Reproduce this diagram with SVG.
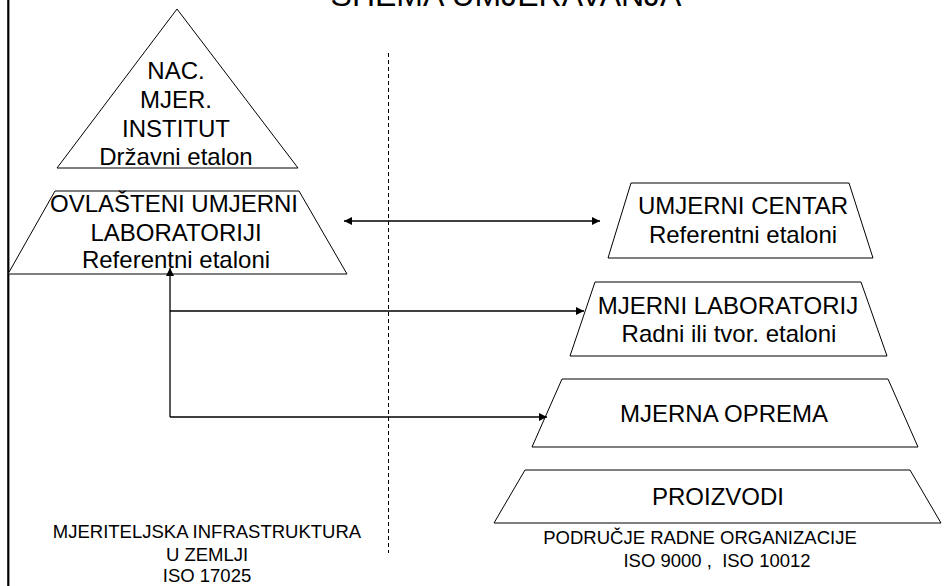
<svg xmlns="http://www.w3.org/2000/svg" width="951" height="586" viewBox="0 0 951 586">
  <style>
    .shape { fill: #ffffff; stroke: #000000; stroke-width: 1; }
    .lbl { font-family: "Liberation Sans", Arial, sans-serif; font-size: 24px; fill: #000000; text-anchor: middle; }
    .note { font-family: "Liberation Sans", Arial, sans-serif; font-size: 18.5px; fill: #000000; text-anchor: middle; }
    .title { font-family: "Liberation Sans", Arial, sans-serif; font-size: 32px; fill: #000000; text-anchor: middle; }
    .conn { fill: none; stroke: #000000; stroke-width: 1.3; }
  </style>
  <defs>
    <marker id="arrow" viewBox="0 0 10 10" refX="10" refY="5" markerWidth="10" markerHeight="8" markerUnits="userSpaceOnUse" orient="auto-start-reverse">
      <path d="M0,0 L10,5 L0,10 Z" fill="#000000"/>
    </marker>
  </defs>

  <rect x="0" y="0" width="951" height="586" fill="#ffffff"/>

  <!-- frame edge on the left -->
  <line x1="8.3" y1="0" x2="8.3" y2="586" stroke="#000000" stroke-width="2.2"/>

  <!-- heading, running off the top edge of the page -->
  <text class="title" x="506" y="6">SHEMA UMJERAVANJA</text>

  <!-- divider between national infrastructure and the organisation -->
  <line x1="388.5" y1="53" x2="388.5" y2="553" stroke="#000000" stroke-width="1" stroke-dasharray="4,3"/>

  <g id="nac-institut">
    <polygon class="shape" points="177,9 298,168 57,168"/>
    <text class="lbl" x="176" y="79">NAC.</text>
    <text class="lbl" x="176" y="108">MJER.</text>
    <text class="lbl" x="176" y="137">INSTITUT</text>
    <text class="lbl" x="176" y="165">Državni etalon</text>
  </g>

  <g id="ovlasteni-laboratoriji">
    <polygon class="shape" points="55,191 299,191 347,274 8,274"/>
    <text class="lbl" x="174" y="212">OVLAŠTENI UMJERNI</text>
    <text class="lbl" x="176" y="241">LABORATORIJI</text>
    <text class="lbl" x="176" y="268">Referentni etaloni</text>
  </g>

  <g id="umjerni-centar">
    <polygon class="shape" points="631,183 849,183 873,258 608,258"/>
    <text class="lbl" x="743" y="214">UMJERNI CENTAR</text>
    <text class="lbl" x="743" y="243">Referentni etaloni</text>
  </g>

  <g id="mjerni-laboratorij">
    <polygon class="shape" points="595,282 861,282 887,356 570,356"/>
    <text class="lbl" x="728" y="314">MJERNI LABORATORIJ</text>
    <text class="lbl" x="729" y="342">Radni ili tvor. etaloni</text>
  </g>

  <g id="mjerna-oprema">
    <polygon class="shape" points="562,379 888,379 918,447 532,447"/>
    <text class="lbl" x="724" y="422">MJERNA OPREMA</text>
  </g>

  <g id="proizvodi">
    <polygon class="shape" points="525,470 910,470 941,523 494,523"/>
    <text class="lbl" x="718" y="505">PROIZVODI</text>
  </g>

  <g id="connectors">
    <line class="conn" x1="344" y1="221" x2="600" y2="221" marker-start="url(#arrow)" marker-end="url(#arrow)"/>
    <line class="conn" x1="170" y1="417" x2="170" y2="268" marker-end="url(#arrow)"/>
    <line class="conn" x1="170" y1="311" x2="584" y2="311" marker-end="url(#arrow)"/>
    <line class="conn" x1="170" y1="417" x2="547" y2="417" marker-end="url(#arrow)"/>
  </g>

  <g id="notes">
    <text class="note" x="207" y="538">MJERITELJSKA INFRASTRUKTURA</text>
    <text class="note" x="207" y="561">U ZEMLJI</text>
    <text class="note" x="207" y="582">ISO 17025</text>
    <text class="note" x="700" y="544">PODRUČJE RADNE ORGANIZACIJE</text>
    <text class="note" x="717" y="567" xml:space="preserve">ISO 9000 ,  ISO 10012</text>
  </g>
</svg>
